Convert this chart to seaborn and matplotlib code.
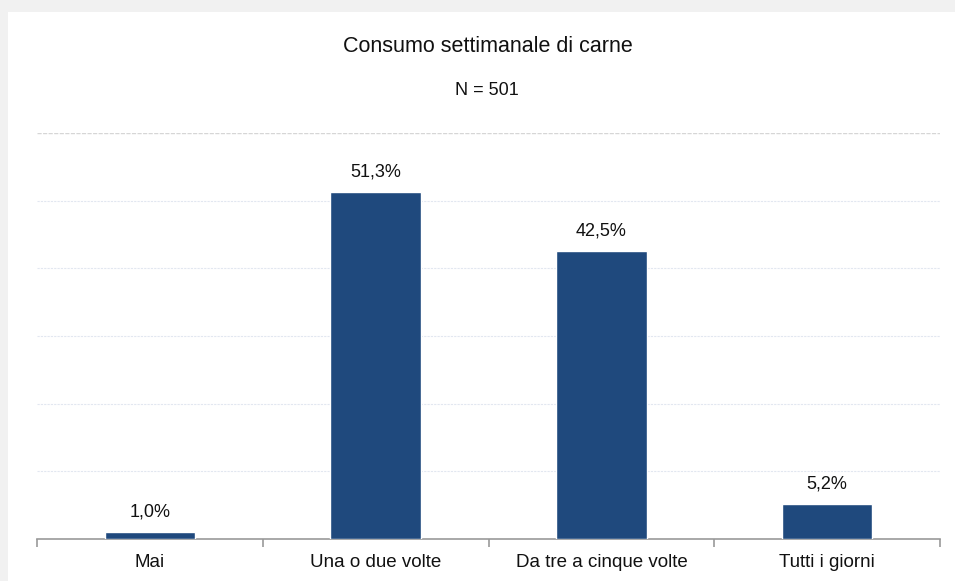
import matplotlib
matplotlib.use("Agg")
import matplotlib.pyplot as plt
import seaborn as sns
import pandas as pd
from matplotlib.patches import Rectangle

# Dati
categorie = ["Mai", "Una o due volte", "Da tre a cinque volte", "Tutti i giorni"]
percentuali = [1.0, 51.3, 42.5, 5.2]
etichette = ["1,0%", "51,3%", "42,5%", "5,2%"]

sns.set_theme(style="white")
plt.rcParams['font.family'] = ['Liberation Sans', 'DejaVu Sans']

W, H = 955, 581
fig = plt.figure(figsize=(W / 100, H / 100), dpi=100)
fig.patch.set_facecolor("#f1f1f1")
# pannello bianco
fig.add_artist(Rectangle((8 / W, 0), 1, 1 - 12 / H, transform=fig.transFigure,
                         facecolor="white", edgecolor="none", zorder=-10))

ax = fig.add_axes([37 / W, 42 / H, 903 / W, 406 / H])
ax.set_facecolor("none")

df = pd.DataFrame({"cat": categorie, "val": percentuali})
sns.barplot(data=df, x="cat", y="val", color="#1f497d", width=0.4, ax=ax,
            saturation=1, zorder=3)

ax.set_xlim(-0.5, 3.5)
ax.set_ylim(0, 60)

# griglia
for y in [10, 20, 30, 40, 50]:
    ax.axhline(y, color="#e2e7f0", lw=0.8, ls=(0, (2, 1)), zorder=1)
ax.axhline(60, color="#d6d6d6", lw=1.0, ls=(0, (3, 1)), zorder=1)

for i, (v, t) in enumerate(zip(percentuali, etichette)):
    ax.text(i, v + 1.7, t, ha="center", va="bottom", fontsize=13, color="#111111")

for s in ["top", "right", "left"]:
    ax.spines[s].set_visible(False)
ax.spines["bottom"].set_color("#999999")
ax.spines["bottom"].set_linewidth(1.2)
ax.set_yticks([])
ax.set_xticks([-0.5, 0.5, 1.5, 2.5, 3.5], minor=False)
ax.set_xticklabels([])
ax.tick_params(axis="x", which="major", length=6, color="#999999", width=1.2, bottom=True)
ax.set_xticks(range(4), minor=True)
ax.set_xticklabels(categorie, minor=True)
ax.tick_params(axis="x", which="minor", length=0, labelsize=13.5, labelcolor="#111111", pad=11)
ax.set_xlabel("")
ax.set_ylabel("")

fig.text(488 / W, 1 - 46 / H, "Consumo settimanale di carne", ha="center", va="center",
         fontsize=15.5, color="#111111")
fig.text(487 / W, 1 - 91 / H, "N = 501", ha="center", va="center",
         fontsize=13, color="#111111")

fig.savefig("out.png", dpi=100, facecolor=fig.get_facecolor())
